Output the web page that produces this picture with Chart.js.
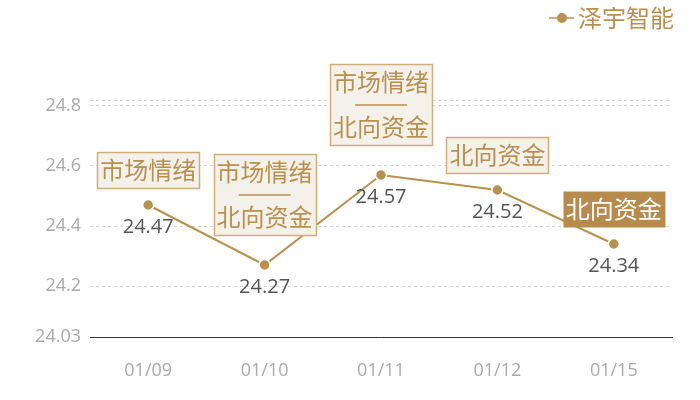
<!DOCTYPE html>
<html>
<head>
<meta charset="utf-8">
<script src="https://cdn.jsdelivr.net/npm/chart.js@4/dist/chart.umd.min.js"></script>
<style>
  html, body { margin: 0; padding: 0; background: #fff; }
  #wrap { width: 700px; height: 400px; }
</style>
</head>
<body>
<div id="wrap"><canvas id="chart" width="700" height="400"></canvas></div>
<script>
// --- Data ---
const seriesName = "泽宇智能";
const dates = ["01/09", "01/10", "01/11", "01/12", "01/15"];
const prices = [24.47, 24.27, 24.57, 24.52, 24.34];
// annotation tags above each point ("—" = separator row)
const tags = [
  ["市场情绪"],
  ["市场情绪", "—", "北向资金"],
  ["市场情绪", "—", "北向资金"],
  ["北向资金"],
  ["北向资金"]
];
const highlighted = [false, false, false, false, true];
const yTicks = [24.03, 24.2, 24.4, 24.6, 24.8, 24.82];
const yMin = 24.03, yMax = 24.82;

// --- Styles ---
const GOLD = "#b8914f";
const FONT = "'Open Sans', 'Noto Sans CJK SC', sans-serif";

// --- Helpers ---
function drawTag(ctx, cx, pointY, lines, hot) {
  const lineH = 26, sepH = 19, pad = 5;
  ctx.font = "24px " + FONT;
  let w = 0, h = pad * 2;
  lines.forEach(t => {
    if (t === "—") { h += sepH; }
    else { w = Math.max(w, ctx.measureText(t).width); h += lineH; }
  });
  w += 6;
  const gap = lines.length > 1 ? 30 : 17;
  const x = Math.round(cx - w / 2) + 0.5;
  const y = Math.round(pointY - gap - h) + 0.5;

  ctx.fillStyle = hot ? "#b68b4b" : "#f4f0ea";
  ctx.fillRect(x, y, w, h);
  if (!hot) {
    ctx.strokeStyle = "#cfae7c";
    ctx.lineWidth = 1.5;
    ctx.strokeRect(x, y, w, h);
  }

  ctx.fillStyle = hot ? "#ffffff" : GOLD;
  ctx.textAlign = "center";
  ctx.textBaseline = "middle";
  let yy = y + pad;
  lines.forEach(t => {
    if (t === "—") {
      ctx.strokeStyle = GOLD;
      ctx.lineWidth = 1.5;
      ctx.beginPath();
      ctx.moveTo(cx - 26, yy + sepH / 2);
      ctx.lineTo(cx + 26, yy + sepH / 2);
      ctx.stroke();
      yy += sepH;
    } else {
      ctx.fillText(t, cx, yy + lineH / 2 + 2);
      yy += lineH;
    }
  });
}

// --- Plugin: value labels, tags and legend ---
const annotatePlugin = {
  id: "annotate",
  afterDatasetsDraw(chart) {
    const ctx = chart.ctx;
    const meta = chart.getDatasetMeta(0);
    ctx.save();
    meta.data.forEach((pt, i) => {
      // value below point
      ctx.font = "20px " + FONT;
      ctx.fillStyle = "#555555";
      ctx.textAlign = "center";
      ctx.textBaseline = "middle";
      ctx.fillText(prices[i].toFixed(2), pt.x, pt.y + 22);
      drawTag(ctx, pt.x, pt.y, tags[i], highlighted[i]);
    });

    // legend (top right)
    const lx = 562, ly = 18;
    ctx.strokeStyle = GOLD;
    ctx.lineWidth = 1.5;
    ctx.beginPath();
    ctx.moveTo(lx - 13, ly);
    ctx.lineTo(lx + 12, ly);
    ctx.stroke();
    ctx.fillStyle = GOLD;
    ctx.beginPath();
    ctx.arc(lx, ly, 5, 0, Math.PI * 2);
    ctx.fill();
    ctx.font = "24px " + FONT;
    ctx.textAlign = "left";
    ctx.textBaseline = "middle";
    ctx.fillText(chart.data.datasets[0].label, 578, ly + 2);
    ctx.restore();
  }
};

// --- Chart ---
new Chart(document.getElementById("chart"), {
  type: "line",
  data: {
    labels: dates,
    datasets: [{
      label: seriesName,
      data: prices,
      borderColor: GOLD,
      borderWidth: 2,
      backgroundColor: GOLD,
      pointBackgroundColor: GOLD,
      pointBorderColor: "#ffffff",
      pointBorderWidth: 1.5,
      pointRadius: 5.5,
      tension: 0
    }]
  },
  options: {
    responsive: false,
    animation: false,
    layout: { padding: { top: 100, right: 28, left: 0, bottom: 0 } },
    plugins: {
      legend: { display: false },
      tooltip: { enabled: false }
    },
    scales: {
      x: {
        offset: true,
        grid: { display: false, drawTicks: false },
        border: { display: true, color: "#333333", width: 1 },
        ticks: {
          color: "#aaaaaa",
          font: { family: FONT, size: 18 },
          padding: 23
        },
        afterFit(scale) { scale.height = 63; }
      },
      y: {
        min: yMin,
        max: yMax,
        afterBuildTicks(scale) {
          scale.ticks = yTicks.map(v => ({ value: v }));
        },
        afterFit(scale) { scale.width = 90; },
        border: { display: false, dash: [3, 3] },
        grid: {
          drawTicks: false,
          color: ctx => (ctx.tick && ctx.tick.value === yMin) ? "rgba(0,0,0,0)" : "#d4d4d4",
          lineWidth: 1
        },
        ticks: {
          color: "#aaaaaa",
          font: { family: FONT, size: 18 },
          padding: 9,
          callback: v => (v === yMax ? "" : String(v))
        }
      }
    }
  },
  plugins: [annotatePlugin]
});
</script>
</body>
</html>
